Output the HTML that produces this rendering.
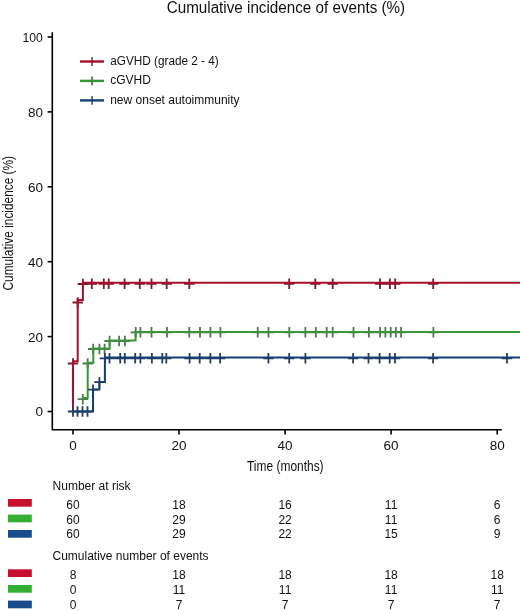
<!DOCTYPE html>
<html><head><meta charset="utf-8"><style>
html,body{margin:0;padding:0;background:#fff;width:520px;height:611px;overflow:hidden}
svg{display:block;will-change:transform;font-family:"Liberation Sans",sans-serif;fill:#111}
svg text{fill:#111}
</style></head><body>
<svg width="520" height="611" viewBox="0 0 520 611">
<text x="166.7" y="12.5" font-size="15.6" textLength="238.5" lengthAdjust="spacingAndGlyphs">Cumulative incidence of events (%)</text>
<g stroke="#000" stroke-width="1.6" fill="none">
<path d="M52.3,32.3 V430.6 M51.5,429.8 H501.8"/>
<path d="M47.6,37.0 H52.3"/>
<path d="M47.6,111.9 H52.3"/>
<path d="M47.6,186.8 H52.3"/>
<path d="M47.6,261.7 H52.3"/>
<path d="M47.6,336.6 H52.3"/>
<path d="M47.6,411.5 H52.3"/>
<path d="M73.0,429.8 V434.4"/>
<path d="M179.0,429.8 V434.4"/>
<path d="M285.1,429.8 V434.4"/>
<path d="M391.1,429.8 V434.4"/>
<path d="M497.2,429.8 V434.4"/>
</g>
<text x="22.4" y="41.9" font-size="13.5" textLength="20.3" lengthAdjust="spacingAndGlyphs">100</text>
<text x="43.0" y="116.8" font-size="13.5" text-anchor="end">80</text>
<text x="43.0" y="191.7" font-size="13.5" text-anchor="end">60</text>
<text x="43.0" y="266.6" font-size="13.5" text-anchor="end">40</text>
<text x="43.0" y="341.5" font-size="13.5" text-anchor="end">20</text>
<text x="43.0" y="416.4" font-size="13.5" text-anchor="end">0</text>
<text x="73.0" y="449.9" font-size="13.5" text-anchor="middle">0</text>
<text x="179.0" y="449.9" font-size="13.5" text-anchor="middle">20</text>
<text x="285.1" y="449.9" font-size="13.5" text-anchor="middle">40</text>
<text x="391.1" y="449.9" font-size="13.5" text-anchor="middle">60</text>
<text x="497.2" y="449.9" font-size="13.5" text-anchor="middle">80</text>
<text x="285.3" y="470.5" font-size="15.3" text-anchor="middle" textLength="76.6" lengthAdjust="spacingAndGlyphs">Time (months)</text>
<text transform="translate(13.1,223.2) rotate(-90)" x="0" y="0" font-size="14.5" text-anchor="middle" textLength="134.5" lengthAdjust="spacingAndGlyphs">Cumulative incidence (%)</text>
<g fill="none"><path d="M67.80,363.50 H78.20 M73.00,358.30 V368.70 M72.50,302.50 H82.90 M77.70,297.30 V307.70 M77.70,284.00 H88.10 M82.90,278.80 V289.20 M86.60,283.80 H97.00 M91.80,278.60 V289.00 M98.60,283.80 H109.00 M103.80,278.60 V289.00 M103.50,283.80 H113.90 M108.70,278.60 V289.00 M119.40,283.80 H129.80 M124.60,278.60 V289.00 M134.60,283.80 H145.00 M139.80,278.60 V289.00 M146.30,283.80 H156.70 M151.50,278.60 V289.00 M161.50,283.80 H171.90 M166.70,278.60 V289.00 M184.10,283.80 H194.50 M189.30,278.60 V289.00 M284.00,283.80 H294.40 M289.20,278.60 V289.00 M310.10,283.80 H320.50 M315.30,278.60 V289.00 M327.50,283.80 H337.90 M332.70,278.60 V289.00 M374.80,283.80 H385.20 M380.00,278.60 V289.00 M384.70,283.80 H395.10 M389.90,278.60 V289.00 M390.00,283.80 H400.40 M395.20,278.60 V289.00 M428.00,283.80 H438.40 M433.20,278.60 V289.00" stroke="#7a1a2e" stroke-width="1.8"/><path d="M73.00,411.50 L73.00,361.30 L77.70,361.30 L77.70,300.10 L82.90,300.10 L82.90,282.80 L520.00,282.80" stroke="#a80e2e" stroke-width="2"/></g>
<g fill="none"><path d="M77.60,399.20 H88.00 M82.80,394.00 V404.40 M82.50,363.50 H92.90 M87.70,358.30 V368.70 M88.00,349.00 H98.40 M93.20,343.80 V354.20 M94.20,349.00 H104.60 M99.40,343.80 V354.20 M99.40,349.00 H109.80 M104.60,343.80 V354.20 M104.40,341.00 H114.80 M109.60,335.80 V346.20 M113.90,341.00 H124.30 M119.10,335.80 V346.20 M119.70,341.00 H130.10 M124.90,335.80 V346.20 M130.50,332.30 H140.90 M135.70,327.10 V337.50 M135.20,332.30 H145.60 M140.40,327.10 V337.50 M146.30,332.30 H156.70 M151.50,327.10 V337.50 M161.80,332.30 H172.20 M167.00,327.10 V337.50 M184.10,332.30 H194.50 M189.30,327.10 V337.50 M194.80,332.30 H205.20 M200.00,327.10 V337.50 M205.20,332.30 H215.60 M210.40,327.10 V337.50 M215.20,332.30 H225.60 M220.40,327.10 V337.50 M252.50,332.30 H262.90 M257.70,327.10 V337.50 M263.30,332.30 H273.70 M268.50,327.10 V337.50 M284.10,332.30 H294.50 M289.30,327.10 V337.50 M300.20,332.30 H310.60 M305.40,327.10 V337.50 M310.60,332.30 H321.00 M315.80,327.10 V337.50 M321.50,332.30 H331.90 M326.70,327.10 V337.50 M327.50,332.30 H337.90 M332.70,327.10 V337.50 M348.30,332.30 H358.70 M353.50,327.10 V337.50 M363.70,332.30 H374.10 M368.90,327.10 V337.50 M374.90,332.30 H385.30 M380.10,327.10 V337.50 M380.20,332.30 H390.60 M385.40,327.10 V337.50 M385.50,332.30 H395.90 M390.70,327.10 V337.50 M390.60,332.30 H401.00 M395.80,327.10 V337.50 M395.90,332.30 H406.30 M401.10,327.10 V337.50 M428.20,332.30 H438.60 M433.40,327.10 V337.50" stroke="#4e784e" stroke-width="1.8"/><path d="M82.80,398.00 L87.70,398.00 L87.70,362.80 L93.30,362.80 L93.30,348.50 L109.70,348.50 L109.70,340.50 L135.60,340.50 L135.60,332.00 L520.00,332.00" stroke="#3a953a" stroke-width="2"/></g>
<g fill="none"><path d="M67.80,411.50 H78.20 M73.00,406.30 V416.70 M72.30,411.50 H82.70 M77.50,406.30 V416.70 M77.30,411.50 H87.70 M82.50,406.30 V416.70 M82.30,411.50 H92.70 M87.50,406.30 V416.70 M87.80,389.60 H98.20 M93.00,384.40 V394.80 M94.20,382.20 H104.60 M99.40,377.00 V387.40 M99.70,358.30 H110.10 M104.90,353.10 V363.50 M104.30,358.30 H114.70 M109.50,353.10 V363.50 M115.00,358.30 H125.40 M120.20,353.10 V363.50 M119.60,358.30 H130.00 M124.80,353.10 V363.50 M130.00,358.30 H140.40 M135.20,353.10 V363.50 M135.20,358.30 H145.60 M140.40,353.10 V363.50 M146.70,358.30 H157.10 M151.90,353.10 V363.50 M157.10,358.30 H167.50 M162.30,353.10 V363.50 M161.10,358.30 H171.50 M166.30,353.10 V363.50 M184.40,358.30 H194.80 M189.60,353.10 V363.50 M194.50,358.30 H204.90 M199.70,353.10 V363.50 M205.20,358.30 H215.60 M210.40,353.10 V363.50 M214.90,358.30 H225.30 M220.10,353.10 V363.50 M263.20,358.30 H273.60 M268.40,353.10 V363.50 M284.00,358.30 H294.40 M289.20,353.10 V363.50 M300.20,358.30 H310.60 M305.40,353.10 V363.50 M347.90,358.30 H358.30 M353.10,353.10 V363.50 M363.30,358.30 H373.70 M368.50,353.10 V363.50 M374.40,358.30 H384.80 M379.60,353.10 V363.50 M384.50,358.30 H394.90 M389.70,353.10 V363.50 M389.80,358.30 H400.20 M395.00,353.10 V363.50 M427.90,358.30 H438.30 M433.10,353.10 V363.50 M501.80,358.30 H512.20 M507.00,353.10 V363.50" stroke="#2a3e5a" stroke-width="1.8"/><path d="M73.00,411.50 L93.00,411.50 L93.00,389.60 L99.40,389.60 L99.40,382.00 L104.90,382.00 L104.90,357.60 L520.00,357.60" stroke="#123f75" stroke-width="2"/></g>
<path d="M92.1,57.1 V65.9" stroke="#666" stroke-width="1.8"/>
<path d="M80,61.5 H104" stroke="#a80e2e" stroke-width="2.4"/>
<text x="110.2" y="64.5" font-size="12" textLength="108.6" lengthAdjust="spacingAndGlyphs">aGVHD (grade 2 - 4)</text>
<path d="M92.1,76.5 V85.30000000000001" stroke="#666" stroke-width="1.8"/>
<path d="M80,80.9 H104" stroke="#3a953a" stroke-width="2.4"/>
<text x="110.2" y="84.3" font-size="12">cGVHD</text>
<path d="M92.1,96.0 V104.80000000000001" stroke="#666" stroke-width="1.8"/>
<path d="M80,100.4 H104" stroke="#123f75" stroke-width="2.4"/>
<text x="110.2" y="103.6" font-size="12">new onset autoimmunity</text>
<text x="52.6" y="489.8" font-size="12">Number at risk</text>
<text x="52.5" y="560.2" font-size="12">Cumulative number of events</text>
<rect x="8" y="499" width="23.8" height="7.7" fill="#c8102e"/>
<text x="73.0" y="509" font-size="12" text-anchor="middle">60</text>
<text x="179.0" y="509" font-size="12" text-anchor="middle">18</text>
<text x="285.1" y="509" font-size="12" text-anchor="middle">16</text>
<text x="391.1" y="509" font-size="12" text-anchor="middle">11</text>
<text x="497.2" y="509" font-size="12" text-anchor="middle">6</text>
<rect x="8" y="514.6" width="23.8" height="7.7" fill="#33b033"/>
<text x="73.0" y="523.6" font-size="12" text-anchor="middle">60</text>
<text x="179.0" y="523.6" font-size="12" text-anchor="middle">29</text>
<text x="285.1" y="523.6" font-size="12" text-anchor="middle">22</text>
<text x="391.1" y="523.6" font-size="12" text-anchor="middle">11</text>
<text x="497.2" y="523.6" font-size="12" text-anchor="middle">6</text>
<rect x="8" y="530" width="23.8" height="7.7" fill="#184c8c"/>
<text x="73.0" y="537.9" font-size="12" text-anchor="middle">60</text>
<text x="179.0" y="537.9" font-size="12" text-anchor="middle">29</text>
<text x="285.1" y="537.9" font-size="12" text-anchor="middle">22</text>
<text x="391.1" y="537.9" font-size="12" text-anchor="middle">15</text>
<text x="497.2" y="537.9" font-size="12" text-anchor="middle">9</text>
<rect x="8" y="569.3" width="23.8" height="7.7" fill="#c8102e"/>
<text x="73.0" y="579.3" font-size="12" text-anchor="middle">8</text>
<text x="179.0" y="579.3" font-size="12" text-anchor="middle">18</text>
<text x="285.1" y="579.3" font-size="12" text-anchor="middle">18</text>
<text x="391.1" y="579.3" font-size="12" text-anchor="middle">18</text>
<text x="497.2" y="579.3" font-size="12" text-anchor="middle">18</text>
<rect x="8" y="585" width="23.8" height="7.7" fill="#33b033"/>
<text x="73.0" y="593.8" font-size="12" text-anchor="middle">0</text>
<text x="179.0" y="593.8" font-size="12" text-anchor="middle">11</text>
<text x="285.1" y="593.8" font-size="12" text-anchor="middle">11</text>
<text x="391.1" y="593.8" font-size="12" text-anchor="middle">11</text>
<text x="497.2" y="593.8" font-size="12" text-anchor="middle">11</text>
<rect x="8" y="600.6" width="23.8" height="7.7" fill="#184c8c"/>
<text x="73.0" y="608.8" font-size="12" text-anchor="middle">0</text>
<text x="179.0" y="608.8" font-size="12" text-anchor="middle">7</text>
<text x="285.1" y="608.8" font-size="12" text-anchor="middle">7</text>
<text x="391.1" y="608.8" font-size="12" text-anchor="middle">7</text>
<text x="497.2" y="608.8" font-size="12" text-anchor="middle">7</text>
</svg>
</body></html>
